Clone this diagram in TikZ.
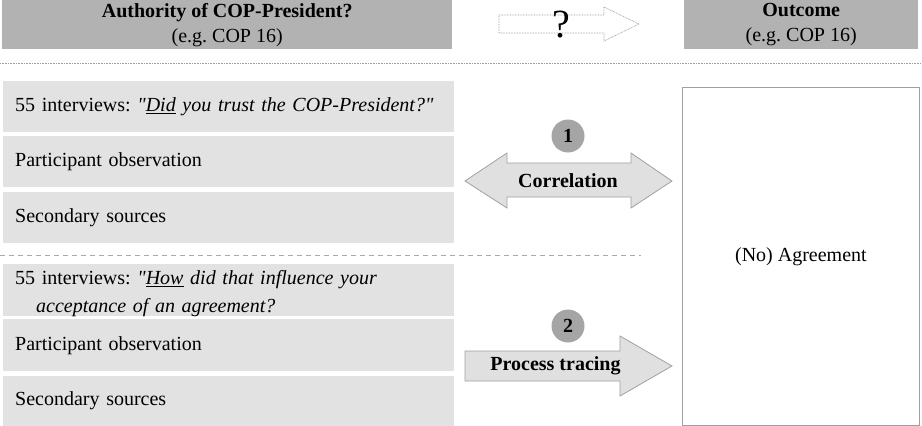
\documentclass[tikz,border=0pt]{standalone}
\usepackage{fontspec}
\setmainfont{Liberation Serif}[Ligatures=TeXOff]
\definecolor{hdr}{RGB}{178,178,178}
\definecolor{lbox}{RGB}{226,226,226}
\definecolor{afill}{RGB}{224,224,224}
\definecolor{aline}{RGB}{160,160,160}
\definecolor{circ}{RGB}{165,165,165}
\frenchspacing
\begin{document}
\frenchspacing
\begin{tikzpicture}[x=1pt,y=-1pt,
  hdrbox/.style={fill=hdr, anchor=north west, inner sep=0pt, align=center,
    font=\fontsize{20}{25}\selectfont},
  evbox/.style={fill=lbox, anchor=north west, inner xsep=12pt, inner ysep=0pt,
    text width=427pt, align=left, font=\fontsize{20}{28}\selectfont},
  numcirc/.style={circle, fill=circ, minimum size=33pt, inner sep=0pt,
    font=\bfseries\fontsize{20}{20}\selectfont},
  arrowshape/.style={fill=afill, draw=aline, line width=0.8pt, line join=miter},
  arrowlabel/.style={font=\bfseries\fontsize{20}{24}\selectfont, inner sep=0pt},
  sepdot/.style={draw=aline, line width=0.8pt, dash pattern=on 0.8pt off 0.8pt},
  sepdash/.style={draw=aline!90, line width=1pt, dash pattern=on 5pt off 4pt}
]
\useasboundingbox (0,0) rectangle (922,426);

% headers
\node[hdrbox, minimum width=450pt, minimum height=49pt] (h1) at (2,0)
  {\textbf{Authority of COP-President?}\\(e.g. COP 16)};
\node[hdrbox, minimum width=234pt, minimum height=49pt] (h2) at (684,0)
  {\textbf{Outcome}\\(e.g. COP 16)};

% question arrow
\draw[draw=aline, line width=0.7pt, dash pattern=on 0.8pt off 0.8pt]
  (499,15) -- (604,15) -- (604,7) -- (639,24) -- (604,41) -- (604,33) -- (499,33) -- cycle;
\node[font=\fontsize{40}{40}\selectfont, inner sep=0pt] (q) at (561,24.5) {?};

% separator lines
\draw[sepdot] (0,63) -- (922,63);
\draw[sepdash] (0,255) -- (641,255);

% evidence boxes, upper
\node[evbox, minimum height=51pt] (b1) at (3,81)
  {\mbox{55 interviews: \textit{"\underline{Did} you trust the COP-President?"}}};
\node[evbox, minimum height=51pt] (b2) at (3,136) {Participant observation};
\node[evbox, minimum height=51pt] (b3) at (3,192) {Secondary sources};

% evidence boxes, lower
\node[evbox, minimum height=52pt] (c1) at (3,264)
  {\mbox{\rule{0pt}{20pt}55 interviews: \textit{"\underline{How} did that influence your}}\\
   \mbox{\hspace*{21pt}\textit{acceptance of an agreement?}}};
\node[evbox, minimum height=52pt] (c2) at (3,319) {Participant observation};
\node[evbox, minimum height=50pt] (c3) at (3,376) {Secondary sources};

% outcome box
\node[draw=aline, line width=0.8pt, fill=white, anchor=north west,
  minimum width=237pt, minimum height=338pt, inner sep=0pt,
  font=\fontsize{20}{24}\selectfont] (out) at (682,87) {(No) Agreement};

% correlation double arrow
\draw[arrowshape] (465,181) -- (507,153) -- (507,163) -- (631,163) -- (631,153)
  -- (672,181) -- (631,208) -- (631,197) -- (507,197) -- (507,208) -- cycle;
\node[arrowlabel] (corr) at (568,181) {Correlation};
\node[numcirc] (n1) at (568,136) {1};

% process tracing arrow
\draw[arrowshape] (465,351) -- (620,351) -- (620,336) -- (672,366)
  -- (620,396) -- (620,381) -- (465,381) -- cycle;
\node[arrowlabel] (pt) at (555.5,366) {Process tracing};
\node[numcirc] (n2) at (568,326) {2};
\end{tikzpicture}
\end{document}
